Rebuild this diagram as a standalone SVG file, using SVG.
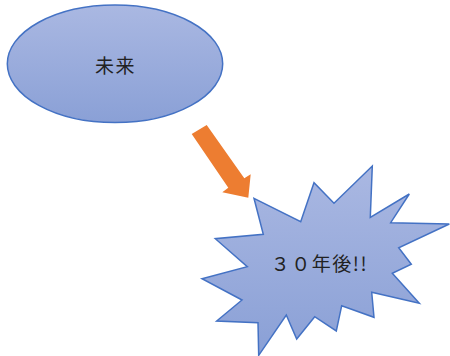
<svg xmlns="http://www.w3.org/2000/svg" width="450" height="356" viewBox="0 0 450 356">
  <defs>
    <linearGradient id="blueGrad" x1="0" y1="0" x2="0" y2="1">
      <stop offset="0" stop-color="#aab8e2"/>
      <stop offset="1" stop-color="#8aa0d6"/>
    </linearGradient>
    <style>
      .shape { fill: url(#blueGrad); stroke: #4472c4; stroke-width: 1.5; stroke-linejoin: miter; }
      .label { font-family: "Noto Sans CJK JP", "Noto Sans", sans-serif; font-size: 19px; fill: #222222; text-anchor: middle; dominant-baseline: central; letter-spacing: 1.5px; }
      .arrow { fill: #ed7d31; stroke: none; }
    </style>
  </defs>
  <rect width="450" height="356" fill="#ffffff"/>
  <g id="node-future">
    <ellipse class="shape" cx="115" cy="63.8" rx="107.7" ry="58.8"/>
    <text class="label" x="115.5" y="64">未来</text>
  </g>
  <g id="node-30years">
    <polygon class="shape" points="254,198.3 300.7,221.7 314,182.7 334,203.3 372.3,166 370.3,217.3 409.3,194 390.7,222.7 449.3,224 398.7,247.7 411.3,264.3 392.3,273.3 419.3,303.3 371.7,292.3 374,317.3 341.7,305.7 336.3,331 314.7,316.7 296.7,339 286.3,315 258.7,355.3 258,322.7 216.7,321 242,300 202,278.7 247.3,266.7 215.3,238.7 263.3,234.3"/>
    <text class="label" x="319.5" y="262">３０年後!!</text>
  </g>
  <g id="connectors">
    <polygon class="arrow" points="191.7,134 206.7,125 244.3,178.3 250.7,174.3 248.3,197.7 222.3,192.3 228.3,187.7"/>
  </g>
</svg>
